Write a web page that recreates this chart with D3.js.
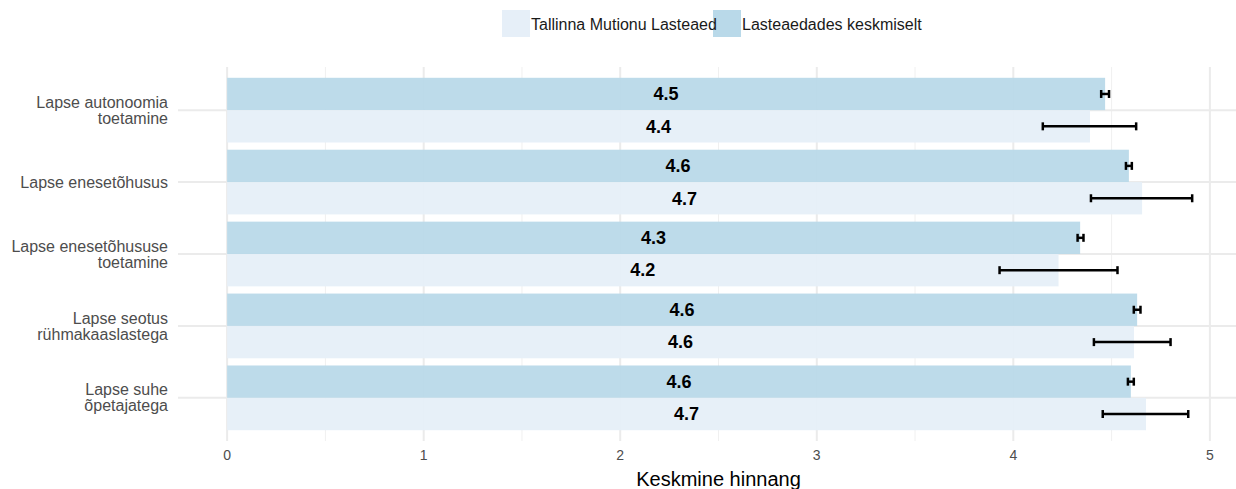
<!DOCTYPE html>
<html>
<head>
<meta charset="utf-8">
<script src="https://cdn.jsdelivr.net/npm/d3@7"></script>
<style>
  body { margin: 0; background: #fff; }
  text { font-family: "Liberation Sans", Arial, sans-serif; }
</style>
</head>
<body>
<div class="chart"></div>
<script>
var svgWidth = 1236;
var svgHeight = 489;

// data
var categories = [
  "Lapse autonoomia\ntoetamine",
  "Lapse enesetõhusus",
  "Lapse enesetõhususe\ntoetamine",
  "Lapse seotus\nrühmakaaslastega",
  "Lapse suhe\nõpetajatega"
];
var seriesNames = ["Tallinna Mutionu Lasteaed", "Lasteaedades keskmiselt"];
var schoolMean = [4.39, 4.655, 4.23, 4.614, 4.675];
var schoolLow  = [4.15, 4.395, 3.93, 4.41, 4.455];
var schoolHigh = [4.625, 4.91, 4.53, 4.80, 4.89];
var avgMean = [4.467, 4.588, 4.34, 4.63, 4.598];
var avgLow  = [4.447, 4.573, 4.327, 4.613, 4.583];
var avgHigh = [4.487, 4.603, 4.357, 4.647, 4.613];
var xTicks = [0, 1, 2, 3, 4, 5];

var colors = ["#e6eff8", "#b9d9e9"];

var svg = d3.select(".chart")
  .append("svg")
  .attr("width", svgWidth)
  .attr("height", svgHeight);

var x = d3.scaleLinear().domain([-0.25, 5.25]).range([178, 1259]);
var y = d3.scalePoint().domain(categories).range([67, 441]).padding(0.6);
var half = y.step() * 0.45;

var grid = svg.append("g");

// minor vertical grid
grid.selectAll(".minor")
  .data([0.5, 1.5, 2.5, 3.5, 4.5])
  .enter().append("line")
  .attr("x1", d => x(d)).attr("x2", d => x(d))
  .attr("y1", 67).attr("y2", 441)
  .attr("stroke", "#f0f0f0").attr("stroke-width", 1);

// major vertical grid
grid.selectAll(".major")
  .data(xTicks)
  .enter().append("line")
  .attr("x1", d => x(d)).attr("x2", d => x(d))
  .attr("y1", 67).attr("y2", 441)
  .attr("stroke", "#ebebeb").attr("stroke-width", 2);

// horizontal grid
grid.selectAll(".hgrid")
  .data(categories)
  .enter().append("line")
  .attr("x1", 178).attr("x2", svgWidth)
  .attr("y1", d => y(d)).attr("y2", d => y(d))
  .attr("stroke", "#ebebeb").attr("stroke-width", 2);

var rows = categories.map((c, i) => ({
  cat: c,
  school: schoolMean[i], sLo: schoolLow[i], sHi: schoolHigh[i],
  avg: avgMean[i], aLo: avgLow[i], aHi: avgHigh[i]
}));

var bars = svg.append("g");

// average bars (upper)
bars.selectAll(".avg")
  .data(rows)
  .enter().append("rect")
  .attr("x", x(0))
  .attr("y", d => y(d.cat) - half)
  .attr("width", d => x(d.avg) - x(0))
  .attr("height", half)
  .attr("fill", colors[1])
  .attr("opacity", 0.95);

// school bars (lower)
bars.selectAll(".school")
  .data(rows)
  .enter().append("rect")
  .attr("x", x(0))
  .attr("y", d => y(d.cat))
  .attr("width", d => x(d.school) - x(0))
  .attr("height", half)
  .attr("fill", colors[0])
  .attr("opacity", 0.95);

// error bars
function errorBar(g, lo, hi, cy) {
  var cap = 4;
  g.append("line").attr("x1", x(lo)).attr("x2", x(hi)).attr("y1", cy).attr("y2", cy);
  g.append("line").attr("x1", x(lo)).attr("x2", x(lo)).attr("y1", cy - cap).attr("y2", cy + cap);
  g.append("line").attr("x1", x(hi)).attr("x2", x(hi)).attr("y1", cy - cap).attr("y2", cy + cap);
}
var errs = svg.append("g").attr("stroke", "#000").attr("stroke-width", 2.5);
rows.forEach(d => {
  errorBar(errs, d.aLo, d.aHi, y(d.cat) - half / 2);
  errorBar(errs, d.sLo, d.sHi, y(d.cat) + half / 2);
});

// value labels
var fmt = d3.format(".1f");
var labels = svg.append("g")
  .attr("font-size", "18px").attr("font-weight", "bold")
  .attr("text-anchor", "middle").attr("fill", "#000");
rows.forEach(d => {
  labels.append("text")
    .attr("x", x(d.avg / 2)).attr("y", y(d.cat) - half / 2)
    .attr("dy", "0.35em").text(fmt(d.avg));
  labels.append("text")
    .attr("x", x(d.school / 2)).attr("y", y(d.cat) + half / 2)
    .attr("dy", "0.35em").text(fmt(d.school));
});

// x axis tick labels
svg.append("g").selectAll("text")
  .data(xTicks)
  .enter().append("text")
  .attr("x", d => x(d)).attr("y", 455)
  .attr("dy", "0.35em")
  .attr("text-anchor", "middle")
  .attr("font-size", "14px")
  .attr("fill", "#4d4d4d")
  .text(d => d);

// y category labels
var catG = svg.append("g")
  .attr("font-size", "16px").attr("fill", "#4d4d4d").attr("text-anchor", "end");
categories.forEach(c => {
  var lines = c.split("\n");
  var t = catG.append("text").attr("x", 168).attr("y", y(c));
  lines.forEach((l, j) => {
    t.append("tspan")
      .attr("x", 168)
      .attr("y", y(c) + (j - (lines.length - 1) / 2) * 16)
      .attr("dy", "0.35em")
      .text(l);
  });
});

// axis title
svg.append("text")
  .attr("x", (x.range()[0] + x.range()[1]) / 2)
  .attr("y", 479)
  .attr("dy", "0.35em")
  .attr("text-anchor", "middle")
  .attr("font-size", "20px")
  .attr("fill", "#000")
  .text("Keskmine hinnang");

// legend: keys first, then names on top
var legendX = [502, 713];
var legend = svg.append("g");
seriesNames.forEach((name, i) => {
  legend.append("rect")
    .attr("x", legendX[i]).attr("y", 10)
    .attr("width", 28).attr("height", 27)
    .attr("fill", colors[i]);
});
seriesNames.forEach((name, i) => {
  legend.append("text")
    .attr("x", legendX[i] + 29).attr("y", 24)
    .attr("dy", "0.35em")
    .attr("font-size", "16px")
    .attr("fill", "#1a1a1a")
    .text(name);
});
</script>
</body>
</html>
